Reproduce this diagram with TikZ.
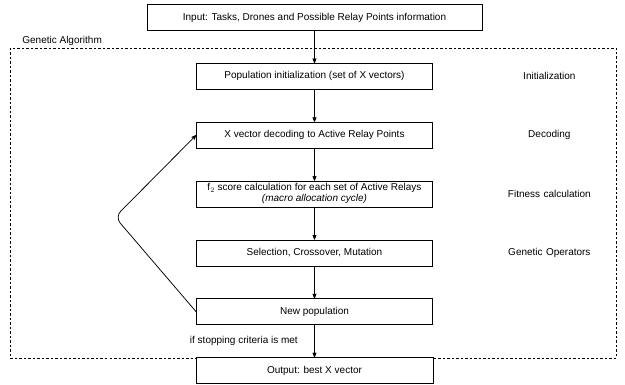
\documentclass[tikz,border=0pt]{standalone}
\usepackage{fontspec}
\setmainfont{Liberation Sans}
\usetikzlibrary{matrix}
\usetikzlibrary{arrows}
\newcommand{\fitnesstext}{\begin{tabular}{@{}c@{}}f$_2$ score calculation for each set of Active Relays\\ \textit{(macro allocation cycle)}\end{tabular}}

\begin{document}
\begin{tikzpicture}[x=1pt,y=1pt,font=\fontsize{10}{11}\selectfont,>=stealth',line width=0.75pt,
    stepbox/.style={draw,fill=white,minimum width=236pt,minimum height=26pt,inner sep=2pt},
    stage/.style={text width=100pt,align=center,inner sep=0pt}]
      \useasboundingbox (0,0) rectangle (625,-385);
      % the GA frame
      \draw[dash pattern=on 2.5pt off 2pt,line width=0.6pt] (10,-48) rectangle (616,-358);
      \node[anchor=base west,inner sep=0pt] (galabel) at (22,-44) {Genetic Algorithm};

      \matrix(m)[matrix of nodes, row sep=32.1pt, column sep=17pt,
      nodes={anchor=center}, anchor=m-1-1.center] at (314.5,-17.5) {
        |[stepbox,minimum width=335pt]| Input: Tasks, Drones and Possible Relay Points information & \\
        |[stepbox]| Population initialization (set of X vectors) & |[stage]| Initialization \\
        |[stepbox]| X vector decoding to Active Relay Points & |[stage]| Decoding \\
        |[stepbox,inner sep=0pt]| \fitnesstext & |[stage]| Fitness calculation \\
        |[stepbox]| Selection, Crossover, Mutation & |[stage]| Genetic Operators \\
        |[stepbox]| New population & \\
        |[stepbox,minimum width=237pt]| Output: best X vector & \\};
      \path[->] (m-1-1) edge (m-2-1);
      \path[->] (m-2-1) edge (m-3-1);
      \path[->] (m-3-1) edge (m-4-1);
      \path[->] (m-4-1) edge (m-5-1);
      \path[->] (m-5-1) edge (m-6-1);
      \path[->] (m-6-1) edge node[left,xshift=-13pt] {if stopping criteria is met} (m-7-1);

      % back to decoding
      \coordinate (turn) at (115,-217);
      \draw[->,rounded corners=8pt] (m-6-1.west) -- (turn) -- (m-3-1.west);
    \end{tikzpicture}
\end{document}
